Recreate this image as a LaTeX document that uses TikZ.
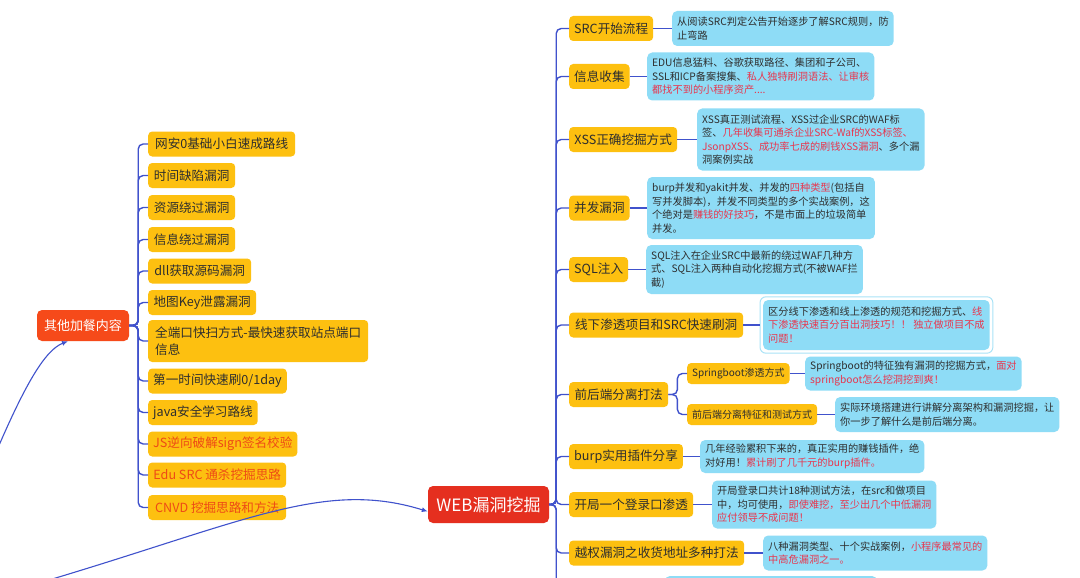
\documentclass[tikz,border=0pt]{standalone}
\usepackage{fontspec}
\setmainfont{Noto Sans CJK SC}
\usetikzlibrary{arrows.meta,calc}
\definecolor{yel}{HTML}{FDC010}
\definecolor{sky}{HTML}{8EDCF6}
\definecolor{ln}{HTML}{4052CC}
\definecolor{txt}{HTML}{2E2E2E}
\definecolor{rtx}{HTML}{E8364E}
\definecolor{otx}{HTML}{EE4A16}
\definecolor{webred}{HTML}{E52F1F}
\definecolor{orred}{HTML}{F64A1A}
\definecolor{selc}{HTML}{A9E3F7}
\newcommand{\redt}[1]{\textcolor{rtx}{#1}}
\begin{document}
\begin{tikzpicture}[x=1pt,y=-1pt,
 yb/.style={fill=yel, rounded corners=4pt, anchor=west, text=txt, inner xsep=5pt, inner ysep=0pt, minimum height=25pt, font=\fontsize{12.6}{15}\selectfont},
 yb2/.style={yb, align=left, font=\fontsize{12.6}{17}\selectfont},
 sb/.style={yb, minimum height=21pt, font=\fontsize{10}{12}\selectfont},
 bb/.style={fill=sky, rounded corners=5pt, anchor=west, text=txt, align=left, inner xsep=5pt, inner ysep=3pt, font=\fontsize{10.2}{13.6}\selectfont},
 conn/.style={draw=ln, line width=1.4pt, rounded corners=5pt},
 rel/.style={draw=ln, line width=1.1pt, -{Latex[length=6pt,width=5pt]}},
]
\useasboundingbox (0,0) rectangle (1080,578);
\clip (0,0) rectangle (1080,578);
\fill[white] (0,0) rectangle (1080,578);

% central nodes
\node[fill=webred, rounded corners=5pt, text=white, minimum width=121pt, minimum height=37pt, inner sep=0pt, font=\fontsize{17}{20}\selectfont] (web) at (488.5,504.5) {WEB漏洞挖掘};
\node[fill=orred, rounded corners=5pt, text=white, minimum width=92pt, minimum height=31pt, inner sep=0pt, font=\fontsize{13}{15}\selectfont] (oth) at (83,325.5) {其他加餐内容};

% left list
\node[yb, minimum width=147pt] (L1) at (148,144) {网安0基础小白速成路线};
\node[yb, minimum width=87pt] (L2) at (148,175.5) {时间缺陷漏洞};
\node[yb, minimum width=87pt] (L3) at (148,207.5) {资源绕过漏洞};
\node[yb, minimum width=87pt] (L4) at (148,239.5) {信息绕过漏洞};
\node[yb, minimum width=103pt] (L5) at (148,271) {dll获取源码漏洞};
\node[yb, minimum width=108pt] (L6) at (148,302.5) {地图Key泄露漏洞};
\node[yb2, minimum width=220pt, minimum height=42pt] (L7) at (148,341) {全端口快扫方式-最快速获取站点端口\\信息};
\node[yb, minimum width=136pt] (L8) at (148,381) {第一时间快速刷0/1day};
\node[yb, minimum width=108pt] (L9) at (148,412.5) {java安全学习路线};
\node[yb, minimum width=146pt, text=otx] (L10) at (148,444) {JS逆向破解sign签名校验};
\node[yb, minimum width=138pt, text=otx] (L11) at (148,475) {Edu SRC 通杀挖掘思路};
\node[yb, minimum width=138pt, text=otx] (L12) at (148,507.5) {CNVD 挖掘思路和方法};

% right list
\node[yb, minimum width=83pt] (R1) at (569,28.5) {SRC开始流程};
\node[yb, minimum width=59pt] (R2) at (569,76.5) {信息收集};
\node[yb, minimum width=108pt] (R3) at (569,139.5) {XSS正确挖掘方式};
\node[yb, minimum width=59pt] (R4) at (569,208) {并发漏洞};
\node[yb, minimum width=58pt] (R5) at (569,269.5) {SQL注入};
\node[yb, minimum width=174pt] (R6) at (569,325) {线下渗透项目和SRC快速刷洞};
\node[yb, minimum width=99pt] (R7) at (569,394.5) {前后端分离打法};
\node[yb, minimum width=113pt] (R8) at (569,456.5) {burp实用插件分享};
\node[yb, minimum width=124pt] (R9) at (569,504.5) {开局一个登录口渗透};
\node[yb, minimum width=175pt] (R10) at (569,553) {越权漏洞之收货地址多种打法};

\node[sb, minimum width=99pt] (S1) at (687,373.5) {Springboot渗透方式};
\node[sb, minimum width=129pt] (S2) at (687,414.5) {前后端分离特征和测试方式};

% blue boxes
\node[bb, minimum width=216pt, minimum height=35pt] (B1) at (672,28.5) {从阅读SRC判定公告开始逐步了解SRC规则，防\\止弯路};
\node[bb, minimum width=221pt, minimum height=48pt] (B2) at (647,76.5) {EDU信息猛料、谷歌获取路径、集团和子公司、\\SSL和ICP备案搜集、\redt{私人独特刷洞语法、让审核}\\\redt{都找不到的小程序资产....}};
\node[bb, minimum width=219pt, minimum height=62pt] (B3) at (697,139.5) {XSS真正测试流程、XSS过企业SRC的WAF标\\签、\redt{几年收集可通杀企业SRC-Waf的XSS标签、}\\\redt{JsonpXSS、成功率七成的刷钱XSS漏洞}、多个漏\\洞案例实战};
\node[bb, minimum width=223pt, minimum height=62pt] (B4) at (647,208) {burp并发和yakit并发、并发的\redt{四种类型}(包括自\\写并发脚本)，并发不同类型的多个实战案例，这\\个绝对是\redt{赚钱的好技巧}，不是市面上的垃圾简单\\并发。};
\node[bb, minimum width=211pt, minimum height=49pt] (B5) at (646,269.5) {SQL注入在企业SRC中最新的绕过WAF几种方\\式、SQL注入两种自动化挖掘方式(不被WAF拦\\截)};
\node[bb, minimum width=217pt, minimum height=50pt] (B6) at (763,325) {区分线下渗透和线上渗透的规范和挖掘方式、\redt{线}\\\redt{下渗透快速百分百出洞技巧！！ 独立做项目不成}\\\redt{问题！}};
\node[bb, minimum width=209pt, minimum height=34pt] (B7) at (805,373.5) {Springboot的特征独有漏洞的挖掘方式，\redt{面对}\\\redt{springboot怎么挖洞挖到爽！}};
\node[bb, minimum width=220pt, minimum height=35pt] (B8) at (835,414.5) {实际环境搭建进行讲解分离架构和漏洞挖掘，让\\你一步了解什么是前后端分离。};
\node[bb, minimum width=219pt, minimum height=33pt] (B9) at (700,456.5) {几年经验累积下来的，真正实用的赚钱插件，绝\\对好用！\redt{累计刷了几千元的burp插件。}};
\node[bb, minimum width=218pt, minimum height=48pt] (B10) at (712,504.5) {开局登录口共计18种测试方法，在src和做项目\\中，均可使用，\redt{即使难挖，至少出几个中低漏洞}\\\redt{应付领导不成问题！}};
\node[bb, minimum width=219pt, minimum height=35pt] (B11) at (763,553) {八种漏洞类型、十个实战案例，\redt{小程序最常见的}\\\redt{中高危漏洞之一。}};
\fill[sky, rounded corners=5pt] (665,576) rectangle (877,610);

% selection outline
\draw[selc, line width=1pt, rounded corners=6pt] ($(B6.north west)+(-3,-3)$) rectangle ($(B6.south east)+(3,3)$);

% connectors left
\foreach \k in {L1,L2,L3,L4,L5,L6,L7,L8,L9,L10,L11,L12}
  \draw[conn] (oth.east) -- ++(9,0) |- (\k.west);
% connectors right
\foreach \k in {R1,R2,R3,R4,R5,R6,R7,R8,R9,R10}
  \draw[conn] (web.east) -- ++(7,0) |- (\k.west);
\coordinate (rb) at (557,600);
\draw[conn] (web.east) -- ++(7,0) |- (rb);
\foreach \k in {S1,S2}
  \draw[conn] (R7.east) -- ++(9,0) |- (\k.west);
% yellow to blue
\draw[conn] (R1.east) -- (B1.west);
\draw[conn] (R2.east) -- (B2.west);
\draw[conn] (R3.east) -- (B3.west);
\draw[conn] (R4.east) -- (B4.west);
\draw[conn] (R5.east) -- (B5.west);
\draw[conn] (R6.east) -- ($(B6.west)+(-3,0)$);
\draw[conn] (S1.east) -- (B7.west);
\draw[conn] (S2.east) -- (B8.west);
\draw[conn] (R8.east) -- (B9.west);
\draw[conn] (R9.east) -- (B10.west);
\draw[conn] (R10.east) -- (B11.west);

% relationship curves
\coordinate (ca) at (-3,450);
\draw[rel] (ca) .. controls (25,385) and (45,350) .. ([xshift=-15pt]oth.south);
\coordinate (cb) at (15,590);
\draw[rel] (cb) .. controls (240,525) and (320,478) .. ([yshift=-7pt]web.west);
\end{tikzpicture}
\end{document}
